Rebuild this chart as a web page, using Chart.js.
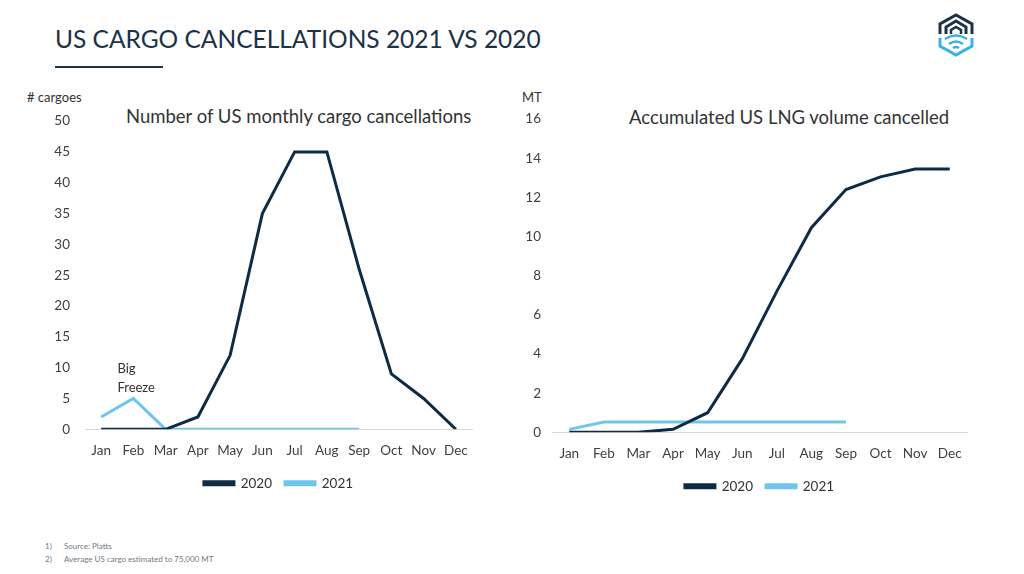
<!DOCTYPE html>
<html>
<head>
<meta charset="utf-8">
<script src="https://cdn.jsdelivr.net/npm/chart.js@4"></script>
<style>
  html, body { margin: 0; padding: 0; background: #fff; }
  body { width: 1024px; height: 574px; position: relative; overflow: hidden; font-family: Lato, "Open Sans", sans-serif; }
  .abs { position: absolute; white-space: nowrap; }
  #title { left: 55px; top: 24px; font-size: 24.5px; color: #1d3247; }
  #rule { left: 55px; top: 66px; width: 108px; height: 2px; background: #1d3247; }
  .unit { font-size: 13px; color: #333; }
  .ctitle { font-size: 18.5px; color: #333; }
  .note { font-size: 8px; color: #6f7a85; }
  .box { position: absolute; }
</style>
</head>
<body>
<div id="title" class="abs">US CARGO CANCELLATIONS 2021 VS 2020</div>
<div id="rule" class="abs"></div>
<svg class="abs" style="left:934px;top:10px" width="44" height="50" viewBox="0 0 44 50">
  <path d="M6 24 V14 L22 5 L38 14 V24" fill="none" stroke="#1d3247" stroke-width="3"/>
  <path d="M12 24 V17 L22 11 L32 17 V24" fill="none" stroke="#1d3247" stroke-width="3"/>
  <path d="M17 24 V20 L22 17 L27 20 V24" fill="none" stroke="#1d3247" stroke-width="2.5"/>
  <path d="M6 28 V36 L22 45 L38 36 V28" fill="none" stroke="#3bb0e6" stroke-width="3"/>
  <path d="M11 29 Q22 22 33 29" fill="none" stroke="#3bb0e6" stroke-width="2.5"/>
  <path d="M15 34 Q22 29 29 34" fill="none" stroke="#3bb0e6" stroke-width="2.5"/>
  <path d="M19 38 Q22 36 25 38" fill="none" stroke="#3bb0e6" stroke-width="2.5"/>
</svg>

<div class="abs unit" style="left:27px;top:89px"># cargoes</div>
<div class="abs unit" style="left:522px;top:89px">MT</div>
<div class="abs ctitle" style="left:126px;top:105px">Number of US monthly cargo cancellations</div>
<div class="abs ctitle" style="left:629px;top:106px">Accumulated US LNG volume cancelled</div>

<div class="box" style="left:0px;top:106px;width:500px;height:394px"><canvas id="left"></canvas></div>
<div class="box" style="left:500px;top:108px;width:500px;height:395px"><canvas id="right"></canvas></div>

<div class="abs note" style="left:45px;top:541px">1)</div>
<div class="abs note" style="left:64px;top:541px">Source: Platts</div>
<div class="abs note" style="left:45px;top:554px">2)</div>
<div class="abs note" style="left:64px;top:554px">Average US cargo estimated to 75,000 MT</div>

<script>
"use strict";

const months = ['Jan', 'Feb', 'Mar', 'Apr', 'May', 'Jun', 'Jul', 'Aug', 'Sep', 'Oct', 'Nov', 'Dec'];

// monthly cargo cancellations (# cargoes)
const cargoes2020 = [0, 0, 0, 2, 12, 35, 45, 45, 26, 9, 5, 0];
const cargoes2021 = [2, 5, 0, 0, 0, 0, 0, 0, 0];

// accumulated volume cancelled (MT)
const volume2020 = [0, 0, 0, 0.15, 1.0, 3.75, 7.2, 10.45, 12.4, 13.05, 13.45, 13.45];
const volume2021 = [0.15, 0.52, 0.52, 0.52, 0.52, 0.52, 0.52, 0.52, 0.52];

const annotationText = ['Big', 'Freeze'];

const dark = '#0e2b45';
const light = '#6ec6ee';
const tickColor = '#404040';

const bigFreeze = {
    id: 'bigFreeze',
    afterDatasetsDraw(chart) {
        const ctx = chart.ctx;
        const x = chart.scales.x.getPixelForValue(1) - 16;
        const y = chart.scales.y.getPixelForValue(cargoes2021[1]);
        ctx.save();
        ctx.font = '13px Lato, "Open Sans", sans-serif';
        ctx.fillStyle = '#333';
        ctx.textBaseline = 'middle';
        ctx.fillText(annotationText[0], x, y - 30);
        ctx.fillText(annotationText[1], x, y - 11);
        ctx.restore();
    }
};

const makeChart = (canvas, data2020, data2021, max, step, yWidth, yPad, padRight, plugins) => {
    return new Chart(canvas.getContext('2d'), {
        type: 'line',
        data: {
            labels: months,
            datasets: [{
                label: '2020',
                data: data2020,
                borderColor: dark,
                backgroundColor: dark,
                borderWidth: 3,
                pointRadius: 0,
                tension: 0
            }, {
                label: '2021',
                data: data2021,
                borderColor: light,
                backgroundColor: light,
                borderWidth: 3,
                pointRadius: 0,
                tension: 0
            }]
        },
        options: {
            responsive: true,
            maintainAspectRatio: false,
            animation: false,
            layout: { padding: { top: 6, right: padRight, left: 0, bottom: 0 } },
            scales: {
                x: {
                    offset: true,
                    grid: { display: false },
                    border: { display: true, color: '#d9d9d9', width: 1 },
                    ticks: { color: tickColor, font: { size: 13.5, family: 'Lato' }, padding: 5, maxRotation: 0, autoSkip: false }
                },
                y: {
                    min: 0,
                    max: max,
                    grid: { display: false },
                    border: { display: false },
                    ticks: { stepSize: step, color: tickColor, font: { size: 13.5, family: 'Lato' }, padding: yPad },
                    afterFit: (scale) => { scale.width = yWidth; }
                }
            },
            plugins: {
                legend: {
                    position: 'bottom',
                    fullSize: false,
                    labels: {
                        boxWidth: 30,
                        boxHeight: 3,
                        padding: 13,
                        color: '#333',
                        font: { size: 13.5, family: 'Lato' }
                    }
                },
                tooltip: { enabled: false }
            }
        },
        plugins: plugins
    });
};

document.addEventListener('DOMContentLoaded', () => {
    makeChart(document.getElementById('left'), cargoes2020, cargoes2021, 50, 5, 85, 7, 28, [bigFreeze]);
    makeChart(document.getElementById('right'), volume2020, volume2021, 16, 2, 52, 3, 33, []);
});
</script>
</body>
</html>
